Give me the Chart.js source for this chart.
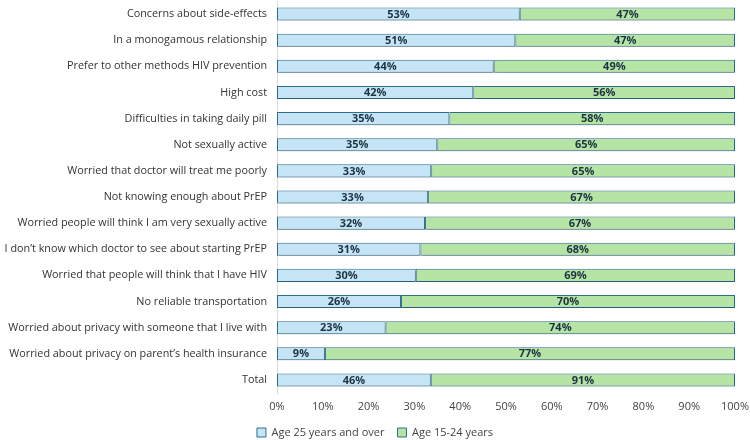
<!DOCTYPE html>
<html lang="en">
<head>
    <meta charset="UTF-8">
    <title>PrEP barriers by age</title>
    <script src="https://cdn.jsdelivr.net/npm/chart.js"></script>
    <style>
        body { margin: 0; background: #fff; }
        #wrap { width: 750px; height: 440px; }
    </style>
</head>
<body>
    <div id="wrap"><canvas id="myChart"></canvas></div>

    <script>
        // categories and raw percentages
        const categories = [
            'Concerns about side-effects',
            'In a monogamous relationship',
            'Prefer to other methods HIV prevention',
            'High cost',
            'Difficulties in taking daily pill',
            'Not sexually active',
            'Worried that doctor will treat me poorly',
            'Not knowing enough about PrEP',
            'Worried people will think I am very sexually active',
            'I don\u2019t know which doctor to see about starting PrEP',
            'Worried that people will think that I have HIV',
            'No reliable transportation',
            'Worried about privacy with someone that I live with',
            'Worried about privacy on parent\u2019s health insurance',
            'Total'
        ];
        const age25plus = [53, 51, 44, 42, 35, 35, 33, 33, 32, 31, 30, 26, 23, 9, 46];
        const age15to24 = [47, 47, 49, 56, 58, 65, 65, 67, 67, 68, 69, 70, 74, 77, 91];
        const xTicks = [0, 10, 20, 30, 40, 50, 60, 70, 80, 90, 100];

        // bars are shown as share of the row total (100% stacked)
        const share = (a, b) => a.map((v, i) => v / (a[i] + b[i]) * 100);
        const raws = [age25plus, age15to24];

        const labelFont = "'Open Sans', 'Noto Sans', sans-serif";

        // raw % written in the middle of each segment
        const valueLabels = {
            id: 'valueLabels',
            afterDatasetsDraw(chart) {
                const ctx = chart.ctx;
                ctx.save();
                ctx.font = 'bold 11px ' + labelFont;
                ctx.fillStyle = '#1d3341';
                ctx.textAlign = 'center';
                ctx.textBaseline = 'middle';
                chart.data.datasets.forEach((ds, di) => {
                    chart.getDatasetMeta(di).data.forEach((bar, i) => {
                        const p = bar.getProps(['x', 'y', 'base'], true);
                        ctx.fillText(raws[di][i] + '%', (p.x + p.base) / 2, p.y + 0.5);
                    });
                });
                ctx.restore();
            }
        };

        const barShadow = {
            id: 'barShadow',
            beforeDatasetsDraw(chart) {
                const ctx = chart.ctx;
                ctx.save();
                ctx.shadowColor = 'rgba(0,0,0,0.18)';
                ctx.shadowBlur = 3;
                ctx.shadowOffsetX = 1;
                ctx.shadowOffsetY = 2;
            },
            afterDatasetsDraw(chart) {
                chart.ctx.restore();
            }
        };

        const ctx = document.getElementById('myChart').getContext('2d');
        const myChart = new Chart(ctx, {
            type: 'bar',
            data: {
                labels: categories,
                datasets: [{
                    label: 'Age 25 years and over',
                    data: share(age25plus, age15to24),
                    backgroundColor: '#c5e4f5',
                    borderColor: '#2f6f8c',
                    borderWidth: 1,
                    borderSkipped: false,
                    barPercentage: 0.5,
                    categoryPercentage: 1
                }, {
                    label: 'Age 15-24 years',
                    data: share(age15to24, age25plus),
                    backgroundColor: '#b6e4a5',
                    borderColor: '#2f6f8c',
                    borderWidth: 1,
                    borderSkipped: false,
                    barPercentage: 0.5,
                    categoryPercentage: 1
                }]
            },
            options: {
                indexAxis: 'y',
                responsive: true,
                maintainAspectRatio: false,
                animation: false,
                // legend box has empty space at its bottom, pull it down a bit
                layout: { padding: { top: 1, right: 0, left: 0, bottom: -8 } },
                scales: {
                    x: {
                        stacked: true,
                        min: 0,
                        max: 100,
                        grid: { display: false, drawTicks: false },
                        border: { display: false },
                        afterBuildTicks: axis => { axis.ticks = xTicks.map(v => ({ value: v })); },
                        afterFit: s => { s.height = 21; s.paddingRight = 15; },
                        ticks: {
                            callback: v => v + '%',
                            color: '#444',
                            font: { family: labelFont, size: 11 },
                            padding: 7
                        }
                    },
                    y: {
                        stacked: true,
                        grid: { display: false, drawTicks: false },
                        border: { display: true, color: '#d9d9d9', width: 1 },
                        afterFit: s => { s.width = 277; s.paddingTop = 0; s.paddingBottom = 0; },
                        ticks: {
                            color: '#333',
                            font: { family: labelFont, size: 10.8 },
                            padding: 10
                        }
                    }
                },
                plugins: {
                    legend: {
                        position: 'bottom',
                        labels: {
                            boxWidth: 9,
                            boxHeight: 9,
                            color: '#444',
                            font: { family: labelFont, size: 11 },
                            padding: 13
                        }
                    },
                    tooltip: { enabled: false }
                }
            },
            plugins: [barShadow, valueLabels]
        });
    </script>
</body>
</html>
